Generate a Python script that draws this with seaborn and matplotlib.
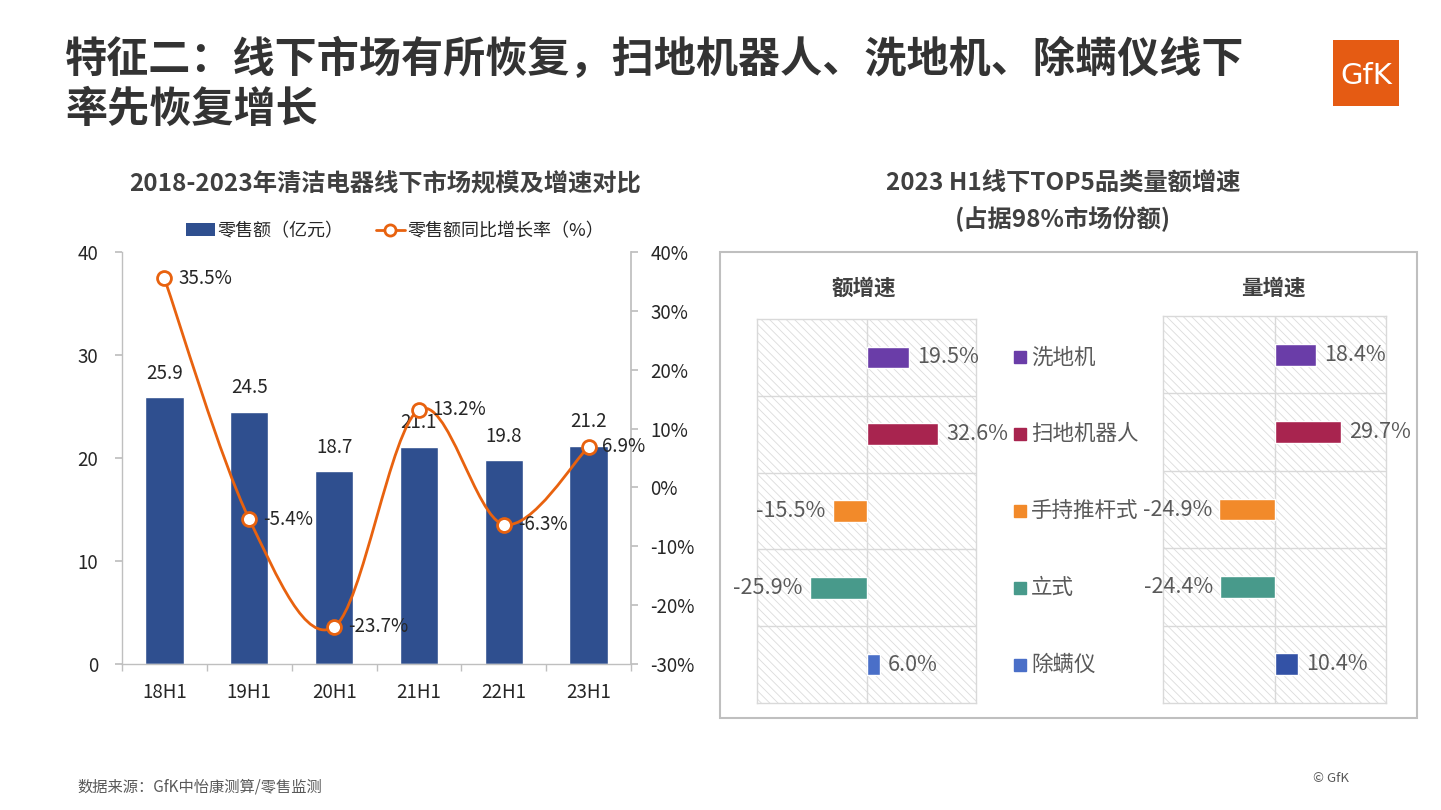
import numpy as np
import matplotlib
matplotlib.use('Agg')
import matplotlib.pyplot as plt
import matplotlib.transforms as mtransforms
from matplotlib.path import Path
from matplotlib.patches import PathPatch, Rectangle, Patch
from matplotlib.lines import Line2D
from matplotlib.ticker import FuncFormatter
import seaborn as sns

# 左图数据
periods = ['18H1', '19H1', '20H1', '21H1', '22H1', '23H1']
sales = [25.9, 24.5, 18.7, 21.1, 19.8, 21.2]          # 零售额（亿元）
growth = [35.5, -5.4, -23.7, 13.2, -6.3, 6.9]         # 同比增长率（%）

# 右图数据
categories = ['洗地机', '扫地机器人', '手持推杆式', '立式', '除螨仪']
value_growth = [19.5, 32.6, -15.5, -25.9, 6.0]        # 额增速
volume_growth = [18.4, 29.7, -24.9, -24.4, 10.4]      # 量增速

sns.set_theme(style='white')
plt.rcParams['font.family'] = ['Noto Sans CJK SC', 'DejaVu Sans']
plt.rcParams['hatch.linewidth'] = 0.6
plt.rcParams['hatch.color'] = '#DCDCDC'

W, H = 1441, 810
fig = plt.figure(figsize=(W / 100, H / 100), dpi=100)
fig.patch.set_facecolor('white')


def fx(px):
    return px / W


def fy(py):
    return 1 - py / H


BAR_BLUE = '#2F4F8F'
ORANGE = '#E8620F'
GRID = '#D9D9D9'
TXT_GRAY = '#595959'
cat_colors = ['#6A3DA8', '#A8244F', '#F28A2A', '#489A8B', '#4A6FC8']
cat_colors_r = ['#6A3DA8', '#A8244F', '#F28A2A', '#489A8B', '#3352A6']

# ---------- 标题 ----------
fig.text(fx(65), fy(60), '特征二：线下市场有所恢复，扫地机器人、洗地机、除螨仪线下',
         fontsize=30.3, fontweight='bold', color='#333333', va='center', ha='left')
fig.text(fx(65), fy(110), '率先恢复增长',
         fontsize=30.3, fontweight='bold', color='#333333', va='center', ha='left')

# GfK logo
fig.patches.append(Rectangle((fx(1333), fy(106)), fx(66), 66 / H,
                             transform=fig.transFigure, facecolor='#E55B13',
                             edgecolor='none'))
fig.text(fx(1366), fy(76), 'GfK', fontsize=21, color='white', ha='center',
         va='center', family=['DejaVu Sans'])

# ---------- 左图 ----------
fig.text(fx(385), fy(184), '2018-2023年清洁电器线下市场规模及增速对比',
         fontsize=17.5, fontweight='bold', color='#404040', ha='center', va='center')

ax1 = fig.add_axes([fx(122), fy(664), fx(509), 412 / H])
sns.barplot(x=periods, y=sales, color=BAR_BLUE, saturation=1, width=0.45,
            ax=ax1, zorder=2)
ax1.set_ylim(0, 40)
ax1.set_xlim(-0.5, len(periods) - 0.5)
ax1.set_yticks(range(0, 41, 10))
ax1.set_xlabel('')
ax1.set_ylabel('')
ax1.set_xticks(range(len(periods)))
ax1.set_xticklabels(periods)
ax1.set_xticks(np.arange(-0.5, len(periods), 1), minor=True)
ax1.tick_params(axis='x', which='major', length=0, pad=13, labelsize=13.5,
                labelcolor='#262626')
ax1.tick_params(axis='x', which='minor', length=5, color='#BFBFBF',
                direction='out', bottom=True)
ax1.tick_params(axis='y', length=5, color='#BFBFBF', direction='out',
                left=True, pad=12, labelsize=13.5, labelcolor='#262626')
for side in ['top', 'right']:
    ax1.spines[side].set_visible(False)
for side in ['left', 'bottom']:
    ax1.spines[side].set_color('#BFBFBF')
    ax1.spines[side].set_linewidth(1)

for i, v in enumerate(sales):
    ax1.text(i, v + 1.3, f'{v:.1f}', ha='center', va='bottom', fontsize=13.5,
             color='#262626')

ax2 = ax1.twinx()
ax2.set_ylim(-30, 40)
ax2.set_yticks(range(-30, 41, 10))
ax2.yaxis.set_major_formatter(FuncFormatter(lambda v, p: f'{v:.0f}%'))
ax2.tick_params(axis='y', length=5, color='#BFBFBF', direction='out',
                right=True, pad=9, labelsize=13.5, labelcolor='#262626')
for side in ['top', 'left', 'bottom']:
    ax2.spines[side].set_visible(False)
ax2.spines['right'].set_color('#BFBFBF')

# 平滑折线（Catmull-Rom -> Bezier）
pts = np.column_stack([np.arange(len(growth)), np.array(growth, dtype=float)])
ext = np.vstack([pts[0], pts, pts[-1]])
verts = [pts[0]]
codes = [Path.MOVETO]
for i in range(len(pts) - 1):
    p0, p1, p2, p3 = ext[i], ext[i + 1], ext[i + 2], ext[i + 3]
    verts += [p1 + (p2 - p0) / 6, p2 - (p3 - p1) / 6, p2]
    codes += [Path.CURVE4] * 3
ax2.add_patch(PathPatch(Path(verts, codes), fill=False, edgecolor=ORANGE,
                        lw=2, zorder=3))
ax2.plot(range(len(growth)), growth, linestyle='none', marker='o', ms=10,
         mfc='white', mec=ORANGE, mew=2, zorder=4)
for i, g in enumerate(growth):
    ax2.annotate(f'{g:.1f}%', (i, g), xytext=(10, 0), textcoords='offset points',
                 ha='left', va='center', fontsize=13.5, color='#262626', zorder=5)

handles = [Patch(facecolor=BAR_BLUE, edgecolor='none'),
           Line2D([0], [0], color=ORANGE, lw=2, marker='o', ms=8,
                  mfc='white', mec=ORANGE, mew=2)]
fig.legend(handles, ['零售额（亿元）', '零售额同比增长率（%）'],
           loc='center', bbox_to_anchor=(fx(395), fy(231)), ncol=2,
           frameon=False, fontsize=13, handlelength=1.6, handletextpad=0.15,
           columnspacing=1.8, labelcolor='#262626')

# ---------- 右图 ----------
fig.text(fx(1063), fy(184), '2023 H1线下TOP5品类量额增速', fontsize=17.5,
         fontweight='bold', color='#404040', ha='center', va='center')
fig.text(fx(1063), fy(218), '(占据98%市场份额)', fontsize=17.5,
         fontweight='bold', color='#404040', ha='center', va='center')
fig.patches.append(Rectangle((fx(720), fy(718)), fx(697), 466 / H,
                             transform=fig.transFigure, fill=False,
                             edgecolor='#BFBFBF', lw=1.5))
fig.text(fx(864), fy(288), '额增速', fontsize=15.5, fontweight='bold',
         color='#404040', ha='center', va='center')
fig.text(fx(1273), fy(288), '量增速', fontsize=15.5, fontweight='bold',
         color='#404040', ha='center', va='center')


def growth_panel(ax, values, colors):
    ax.add_patch(Rectangle((-50, -0.5), 100, len(values), facecolor='white',
                           edgecolor='#DCDCDC', hatch='\\\\\\\\', lw=0, zorder=0))
    sns.barplot(x=values, y=categories, hue=categories, palette=colors,
                orient='h', saturation=1, width=0.28, legend=False, ax=ax,
                zorder=2)
    ax.set_xlim(-50, 50)
    ax.set_ylim(len(values) - 0.5, -0.5)
    ax.axvline(0, color=GRID, lw=1, zorder=1)
    for b in np.arange(0.5, len(values) - 0.5, 1):
        ax.axhline(b, color=GRID, lw=1, zorder=1)
    ax.set_xticks([])
    ax.set_yticks([])
    ax.set_xlabel('')
    ax.set_ylabel('')
    for s in ax.spines.values():
        s.set_visible(True)
        s.set_color(GRID)
        s.set_linewidth(1)
    for i, v in enumerate(values):
        if v >= 0:
            ax.annotate(f'{v:.1f}%', (v, i), xytext=(6, 0),
                        textcoords='offset points', ha='left', va='center',
                        fontsize=15.5, color=TXT_GRAY, annotation_clip=False)
        else:
            ax.annotate(f'{v:.1f}%', (v, i), xytext=(-5, 0),
                        textcoords='offset points', ha='right', va='center',
                        fontsize=15.5, color=TXT_GRAY, annotation_clip=False)


axL = fig.add_axes([fx(757), fy(703), fx(219), 384 / H])
growth_panel(axL, value_growth, cat_colors)
axR = fig.add_axes([fx(1163), fy(703), fx(223), 387 / H])
growth_panel(axR, volume_growth, cat_colors_r)

# 中间图例
trans = mtransforms.blended_transform_factory(fig.transFigure, axL.transData)
for i, (c, col) in enumerate(zip(categories, cat_colors)):
    axL.plot([fx(1020)], [i], marker='s', ms=8, color=col, transform=trans,
             clip_on=False, linestyle='none')
    axL.text(fx(1031), i, c, transform=trans, ha='left', va='center',
             fontsize=15.5, color=TXT_GRAY, clip_on=False)

# ---------- 页脚 ----------
fig.text(fx(77), fy(787), '数据来源：GfK中怡康测算/零售监测', fontsize=11,
         color=TXT_GRAY, ha='left', va='center')
fig.text(fx(1313), fy(779), '© GfK', fontsize=9.5, color=TXT_GRAY,
         ha='left', va='center')

fig.savefig('out.png', dpi=100, facecolor='white')
